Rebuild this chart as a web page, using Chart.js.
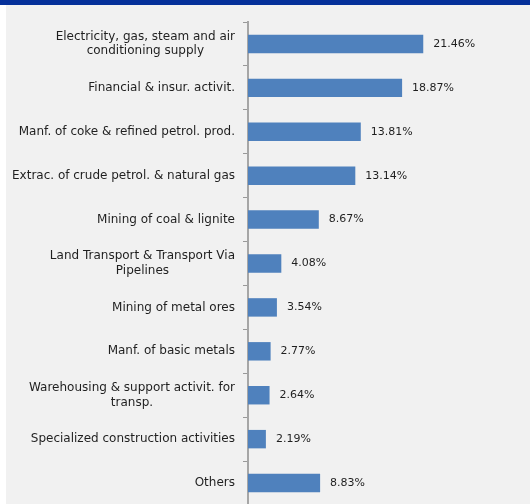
<!DOCTYPE html>
<html>
<head>
<meta charset="utf-8">
<script src="https://cdn.jsdelivr.net/npm/chart.js@4/dist/chart.umd.min.js"></script>
<style>
  html, body { margin: 0; padding: 0; width: 530px; height: 504px; overflow: hidden; background: #f1f1f1; }
  #band { position: absolute; left: 0; top: 0; width: 530px; height: 5px; background: #05309a; }
  #strip { position: absolute; left: 0; top: 5px; width: 6px; height: 499px; background: #ffffff; }
  #wrap { position: absolute; left: 0; top: 0; width: 530px; height: 510px; }
</style>
</head>
<body>
<div id="wrap"><canvas id="myChart" width="530" height="510"></canvas></div>
<div id="band"></div>
<div id="strip"></div>
<script>
// sectors, top to bottom (multi-line names are split into rows)
const sectors = [
    ["Electricity, gas, steam and air", "conditioning supply"],
    ["Financial & insur. activit."],
    ["Manf. of coke & refined petrol. prod."],
    ["Extrac. of crude petrol. & natural gas"],
    ["Mining of coal & lignite"],
    ["Land Transport & Transport Via", "Pipelines"],
    ["Mining of metal ores"],
    ["Manf. of basic metals"],
    ["Warehousing & support activit. for", "transp."],
    ["Specialized construction activities"],
    ["Others"]
];
const shares = [21.46, 18.87, 13.81, 13.14, 8.67, 4.08, 3.54, 2.77, 2.64, 2.19, 8.83];

const nameFont = '12px "DejaVu Sans"';
const valueFont = '11px "DejaVu Sans"';
const textColor = "#1f1f1f";

// category names (right-aligned block, rows centred) and value tags after each bar
const labelPlugin = {
    id: "labels",
    afterDatasetsDraw(chart) {
        const ctx = chart.ctx;
        const yScale = chart.scales.y;
        const xScale = chart.scales.x;
        ctx.save();
        ctx.fillStyle = textColor;
        ctx.textBaseline = "middle";
        ctx.font = nameFont;
        ctx.textAlign = "center";
        sectors.forEach((rows, i) => {
            const y = yScale.getPixelForValue(i);
            const blockW = Math.max(...rows.map(r => ctx.measureText(r).width));
            const cx = 235 - blockW / 2;
            rows.forEach((r, j) => {
                ctx.fillText(r, cx, y + (j - (rows.length - 1) / 2) * 14.5);
            });
        });
        ctx.font = valueFont;
        ctx.textAlign = "left";
        shares.forEach((v, i) => {
            const y = yScale.getPixelForValue(i);
            ctx.fillText(v.toFixed(2) + "%", xScale.getPixelForValue(v) + 10, y);
        });
        ctx.restore();
    }
};

new Chart("myChart", {
    type: "bar",
    data: {
        labels: sectors.map(r => r.join(" ")),
        datasets: [{
            data: shares,
            backgroundColor: "#4f81bd",
            barPercentage: 0.42,
            categoryPercentage: 1
        }]
    },
    options: {
        indexAxis: "y",
        responsive: false,
        animation: false,
        layout: { padding: { top: 22, bottom: 5, right: 37, left: 0 } },
        plugins: {
            legend: { display: false },
            tooltip: { enabled: false }
        },
        scales: {
            x: { display: false, min: 0, max: 30 },
            y: {
                offset: true,
                afterFit(scale) { scale.width = 248; },
                ticks: { display: false },
                grid: {
                    drawOnChartArea: false,
                    drawTicks: true,
                    tickLength: 5,
                    color: "#999999",
                    offset: true
                },
                border: { color: "#a6a6a6", width: 2 }
            }
        }
    },
    plugins: [labelPlugin]
});
</script>
</body>
</html>
